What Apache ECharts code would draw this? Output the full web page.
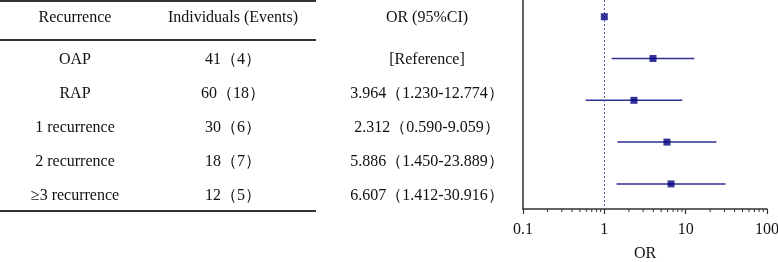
<!DOCTYPE html>
<html>
<head>
<meta charset="utf-8">
<script src="https://cdn.jsdelivr.net/npm/echarts@6/dist/echarts.min.js"></script>
<style>
  html, body { margin: 0; padding: 0; background: #fff; }
  #main { width: 778px; height: 262px; }
</style>
</head>
<body>
<div id="main"></div>
<script>
// table columns
var headers = ['Recurrence', 'Individuals (Events)', 'OR (95%CI)'];
var groups = ['OAP', 'RAP', '1 recurrence', '2 recurrence', '≥3 recurrence'];
var individuals = ['41（4）', '60（18）', '30（6）', '18（7）', '12（5）'];
var orText = ['[Reference]', '3.964（1.230-12.774）', '2.312（0.590-9.059）', '5.886（1.450-23.889）', '6.607（1.412-30.916）'];

// forest plot values (one per plotted row, top to bottom)
var plotRows = [1, 2, 3, 4, 5];
var orValues = [1, 3.964, 2.312, 5.886, 6.607];
var ciLower = [null, 1.230, 0.590, 1.450, 1.412];
var ciUpper = [null, 12.774, 9.059, 23.889, 30.916];

// log axis minor ticks
var minorTicks = [0.2, 0.3, 0.4, 0.5, 0.6, 0.7, 0.8, 0.9, 2, 3, 4, 5, 6, 7, 8, 9, 20, 30, 40, 50, 60, 70, 80, 90];

var FONT = '"Liberation Serif", "Times New Roman", serif';
var textColor = '#111';

// table drawn as graphic text
var colX = [75, 233, 427];
var headerY = 18;
var rowY0 = 60, rowStep = 34;
var elements = [];
function addText(t, x, y) {
    elements.push({
        type: 'text', x: x, y: y,
        style: { text: t, font: '16px ' + FONT, fill: textColor, align: 'center', verticalAlign: 'middle' }
    });
}
headers.forEach(function (h, i) { addText(h, colX[i], headerY); });
groups.forEach(function (g, i) {
    var y = rowY0 + i * rowStep;
    addText(g, colX[0], y);
    addText(individuals[i], colX[1], y);
    addText(orText[i], colX[2], y);
});
[1, 40, 211].forEach(function (y) {
    elements.push({
        type: 'line',
        shape: { x1: 0, y1: y, x2: 316, y2: y },
        style: { stroke: '#333', lineWidth: 2 }
    });
});

var ciData = [];
plotRows.forEach(function (r, i) {
    if (ciLower[i] != null) ciData.push([ciLower[i], ciUpper[i], r]);
});

var myChart = echarts.init(document.getElementById('main'));
myChart.setOption({
    animation: false,
    graphic: elements,
    grid: { left: 523, right: 11, top: 0, bottom: 53, outerBoundsMode: 'none', containLabel: false },
    xAxis: {
        type: 'log',
        logBase: 10,
        min: 0.1,
        max: 100,
        name: 'OR',
        nameLocation: 'middle',
        nameGap: 37,
        nameTextStyle: { fontFamily: FONT, fontSize: 16, color: textColor },
        axisLine: { lineStyle: { color: '#333', width: 1.5 } },
        axisTick: { show: true, length: 5, lineStyle: { color: '#333', width: 1.2 } },
        axisLabel: { fontFamily: FONT, fontSize: 16, color: textColor, margin: 13 },
        splitLine: { show: false }
    },
    yAxis: {
        type: 'value',
        inverse: true,
        min: 0.6,
        max: 5.6,
        axisLine: { show: true, lineStyle: { color: '#333', width: 1.5 } },
        axisTick: { show: false },
        axisLabel: { show: false },
        splitLine: { show: false }
    },
    series: [
        {
            type: 'custom',
            name: 'minorTicks',
            silent: true,
            data: minorTicks.map(function (v) { return [v, 5.6]; }),
            encode: { x: 0, y: 1 },
            renderItem: function (params, api) {
                var p = api.coord([api.value(0), api.value(1)]);
                return {
                    type: 'line',
                    shape: { x1: p[0], y1: p[1], x2: p[0], y2: p[1] + 3 },
                    style: { stroke: '#333', lineWidth: 1 }
                };
            }
        },
        {
            type: 'custom',
            name: 'CI',
            data: ciData,
            encode: { x: [0, 1], y: 2 },
            renderItem: function (params, api) {
                var a = api.coord([api.value(0), api.value(2)]);
                var b = api.coord([api.value(1), api.value(2)]);
                return {
                    type: 'line',
                    shape: { x1: a[0], y1: a[1], x2: b[0], y2: b[1] },
                    style: { stroke: '#2f2f92', lineWidth: 1.5 }
                };
            }
        },
        {
            type: 'scatter',
            name: 'OR',
            symbol: 'rect',
            symbolSize: 7,
            z: 5,
            itemStyle: { color: '#000080' },
            data: plotRows.map(function (r, i) { return [orValues[i], r]; }),
            markLine: {
                silent: true,
                symbol: 'none',
                label: { show: false },
                lineStyle: { color: '#5a5aa8', type: [2, 2], width: 1 },
                data: [{ xAxis: 1 }]
            }
        }
    ]
});
</script>
</body>
</html>
